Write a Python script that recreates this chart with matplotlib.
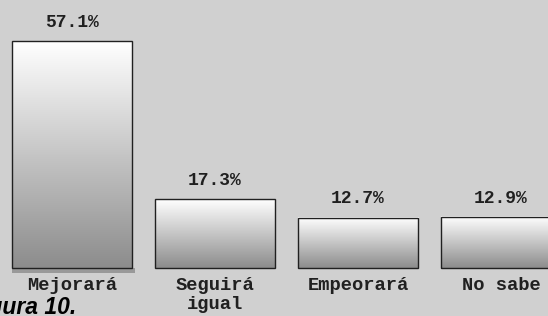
import numpy as np
import matplotlib
matplotlib.use("Agg")
import matplotlib.pyplot as plt

categories = ["Mejorará", "Seguirá\nigual", "Empeorará", "No sabe"]
values = [57.1, 17.3, 12.7, 12.9]
value_labels = ["57.1%", "17.3%", "12.7%", "12.9%"]

bg = "#d0d0d0"
fig = plt.figure(figsize=(5.48, 3.16), dpi=100, facecolor=bg)
ax = fig.add_axes([0, 0, 1, 1])
ax.set_facecolor(bg)
ax.set_xlim(-0.503, 3.329)
ax.set_ylim(-12.1, 67.5)
ax.axis("off")

width = 0.84
grad = np.linspace(0.0, 1.0, 256).reshape(-1, 1)
cmap = matplotlib.colors.LinearSegmentedColormap.from_list("g", ["#8c8c8c", "#ffffff"])

x = np.arange(len(values))
for xi, v, lab in zip(x, values, value_labels):
    ax.imshow(grad, extent=(xi - width / 2, xi + width / 2, 0, v),
              cmap=cmap, aspect="auto", origin="lower", zorder=2)
    ax.bar(xi, v, width=width, facecolor="none", edgecolor="#202020",
           linewidth=1.0, zorder=3)
    ax.text(xi, v + 4.7, lab, ha="center", va="center", family="Liberation Mono",
            fontweight="bold", fontsize=13, color="#202020")

# shadow strip under the first bar
ax.bar(x[0] + 0.01, -1.2, width=width + 0.02, color="#999999", zorder=1)

for xi, c in zip(x, categories):
    ax.text(xi, -2.3, c, ha="center", va="top", family="Liberation Mono",
            fontweight="bold", fontsize=13.5, color="#202020", linespacing=1.15)

# caption, cut off at the left edge as in the source
fig.text(0.14, 0.007, "Figura 10.", ha="right", va="baseline", family="Liberation Sans",
         fontweight="bold", style="italic", fontsize=16.5, color="black")

fig.savefig("out.png", dpi=100, facecolor=bg)
